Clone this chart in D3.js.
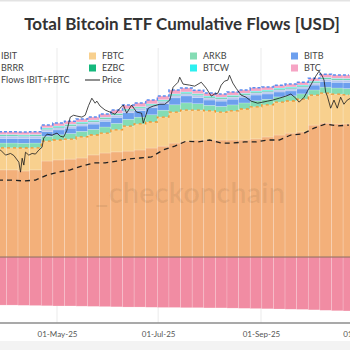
<!DOCTYPE html>
<html>
<head>
<meta charset="utf-8">
<script src="https://cdn.jsdelivr.net/npm/d3@7"></script>
<style>
  body { margin: 0; background: #fff; }
  svg { display: block; }
</style>
</head>
<body>
<div id="chart"></div>
<script>
// Weekly cumulative flows, $B (Fridays)
const weeks = ["2025-03-21","2025-03-28","2025-04-04","2025-04-11","2025-04-18","2025-04-25",
  "2025-05-02","2025-05-09","2025-05-16","2025-05-23","2025-05-30","2025-06-06","2025-06-13",
  "2025-06-20","2025-06-27","2025-07-04","2025-07-11","2025-07-18","2025-07-25","2025-08-01",
  "2025-08-08","2025-08-15","2025-08-22","2025-08-29","2025-09-05","2025-09-12","2025-09-19",
  "2025-09-26","2025-10-03","2025-10-10","2025-10-17","2025-10-24"];

const ibit = [40.2,40.2,40.2,39.7,40.2,44.3,44.8,45.2,45.7,47.1,48.0,48.5,48.9,49.4,50.3,51.2,
  52.6,53.5,54.0,54.0,54.0,54.0,54.0,54.5,55.4,56.3,57.2,57.7,60.9,61.8,61.4,61.4];
const fbtc = [10.2,10.2,10.2,10.6,10.2,9.2,9.2,9.2,9.7,9.2,9.2,10.2,11.5,12.0,12.0,13.4,
  14.3,14.3,13.8,13.4,12.9,13.4,14.3,14.8,14.8,15.2,14.8,15.2,13.8,13.8,13.8,13.4];
const arkb = [2.2,2.2,2.2,2.2,2.2,2.2,2.4,2.6,2.6,2.6,2.8,2.95,3.15,3.15,3.35,3.15,
  3.35,3.35,2.95,2.6,2.6,2.8,2.8,2.8,2.6,2.4,2.4,2.4,2.4,2.8,2.8,2.95];
const bitb = [2.1,2.1,2.1,2.1,2.1,2.1,2.25,2.45,2.45,2.45,2.65,2.8,3.0,3.0,3.2,3.0,
  3.2,3.2,2.8,2.45,2.45,2.65,2.65,2.65,2.45,2.25,2.25,2.25,2.25,2.65,2.65,2.8];
const hodl = [0.9,0.9,0.9,0.9,0.9,0.9,0.9,0.9,0.9,0.9,0.9,0.9,0.9,0.9,0.9,0.9,
  0.9,0.9,0.9,0.9,0.9,0.9,0.9,0.9,0.9,0.9,0.9,0.9,0.9,0.9,0.9,0.9];
const brrr = [0.25,0.25,0.25,0.25,0.25,0.25,0.25,0.25,0.25,0.25,0.25,0.25,0.25,0.25,0.25,0.25,
  0.25,0.25,0.25,0.25,0.25,0.25,0.25,0.25,0.25,0.25,0.25,0.25,0.25,0.25,0.25,0.25];
const ezbc = [0.4,0.4,0.4,0.4,0.4,0.4,0.4,0.4,0.4,0.4,0.4,0.4,0.4,0.4,0.4,0.4,
  0.4,0.4,0.4,0.4,0.4,0.4,0.4,0.4,0.4,0.4,0.4,0.4,0.4,0.4,0.4,0.4];
const btcw = [0.3,0.3,0.3,0.3,0.3,0.3,0.3,0.3,0.3,0.3,0.3,0.3,0.3,0.3,0.3,0.3,
  0.3,0.3,0.3,0.3,0.3,0.3,0.3,0.3,0.3,0.3,0.3,0.3,0.3,0.3,0.3,0.3];
const btc = [1.25,1.25,1.25,1.25,1.25,1.25,1.3,1.4,1.4,1.4,1.5,1.6,1.7,1.7,1.8,1.7,
  1.8,1.8,1.6,1.4,1.4,1.5,1.5,1.5,1.4,1.3,1.3,1.3,1.3,1.5,1.5,1.6];
const gbtc = [-22.1,-22.2,-22.2,-22.3,-22.4,-22.5,-22.6,-22.6,-22.7,-22.8,-22.9,-23.0,-23.1,-23.1,
  -23.2,-23.3,-23.3,-23.4,-23.4,-23.5,-23.5,-23.6,-23.7,-23.8,-23.9,-24.0,-24.1,-24.2,-24.4,-24.6,-24.8,-24.9];
const flowsIbitFbtc = [35.5,35.5,35.5,35.1,35.5,37.8,39.2,40.2,42.0,43.4,43.4,44.3,45.2,45.7,46.2,49.4,
  51.2,53.5,53.1,54.0,52.6,52.6,53.1,53.1,54.0,54.0,56.3,56.8,59.5,61.4,60.5,60.9];

// BTC price, $k
const priceDates = ["2025-03-25","2025-03-28","2025-03-31","2025-04-03","2025-04-05","2025-04-08","2025-04-09",
  "2025-04-10","2025-04-11","2025-04-12","2025-04-14","2025-04-16","2025-04-18","2025-04-20","2025-04-22",
  "2025-04-23","2025-04-25","2025-04-28","2025-05-01","2025-05-03","2025-05-05","2025-05-07","2025-05-09",
  "2025-05-11","2025-05-13","2025-05-16","2025-05-18","2025-05-20","2025-05-22","2025-05-24","2025-05-25",
  "2025-05-27","2025-05-30","2025-06-02","2025-06-05","2025-06-08","2025-06-10","2025-06-12","2025-06-15",
  "2025-06-18","2025-06-21","2025-06-22","2025-06-25","2025-06-28","2025-07-02","2025-07-05","2025-07-08",
  "2025-07-10","2025-07-13","2025-07-14","2025-07-16","2025-07-20","2025-07-23","2025-07-27","2025-07-30",
  "2025-08-02","2025-08-04","2025-08-06","2025-08-08","2025-08-10","2025-08-12","2025-08-13","2025-08-15",
  "2025-08-17","2025-08-20","2025-08-23","2025-08-26","2025-08-30","2025-09-02","2025-09-05","2025-09-08",
  "2025-09-12","2025-09-16","2025-09-19","2025-09-22","2025-09-24","2025-09-27","2025-09-29","2025-10-02",
  "2025-10-04","2025-10-06","2025-10-08","2025-10-09","2025-10-10","2025-10-11","2025-10-13","2025-10-15",
  "2025-10-17","2025-10-19","2025-10-21","2025-10-23","2025-10-25"];
const priceValues = [86.0,86.6,84.2,85.0,84.0,80.8,76.0,82.7,79.4,85.6,84.2,85.0,84.7,86.6,88.0,
  92.4,94.3,93.8,94.8,93.3,92.9,96.2,102.5,103.4,103.0,102.5,103.4,108.0,111.6,109.2,110.2,
  107.8,105.9,104.9,103.9,106.8,108.3,104.4,108.3,104.9,104.4,99.6,106.8,107.8,108.7,108.7,110.7,
  116.9,119.3,121.7,118.4,117.9,117.4,119.3,116.4,112.6,113.6,114.0,117.9,119.8,120.3,122.7,118.9,
  116.4,113.1,112.1,110.2,109.2,109.7,110.2,110.7,111.6,112.6,113.6,111.6,109.7,112.1,115.0,119.3,
  122.2,124.6,122.2,120.3,114.5,112.6,106.8,110.7,106.8,112.1,108.7,110.7,111.6];

const tickDates = ["2025-05-01","2025-07-01","2025-09-01","2025-11-01"];

const colors = {
  IBIT: "#f3b07a", FBTC: "#f8d08e", ARKB: "#84dcb4", BITB: "#6c9fee", HODL: "#b7c6ee",
  BRRR: "#8fb0e6", EZBC: "#14b87c", BTCW: "#2cf0f0", BTC: "#f6a4c4", GBTC: "#f18ca3"
};
const keys = ["IBIT","FBTC","ARKB","BITB","HODL","BRRR","EZBC","BTCW","BTC","GBTC"];
const seriesVals = {IBIT: ibit, FBTC: fbtc, ARKB: arkb, BITB: bitb, HODL: hodl, BRRR: brrr,
  EZBC: ezbc, BTCW: btcw, BTC: btc, GBTC: gbtc};

const parse = d3.timeParse("%Y-%m-%d");
const table = weeks.map((w, i) => {
  const row = {date: parse(w)};
  keys.forEach(k => row[k] = seriesVals[k][i]);
  row.flows = flowsIbitFbtc[i];
  return row;
});
const prices = priceDates.map((d, i) => ({date: parse(d), price: priceValues[i]}));

const W = 350, H = 350;
const svg = d3.select("#chart").append("svg")
  .attr("width", W).attr("height", H);

svg.append("rect").attr("width", W).attr("height", H).attr("fill", "#fff");
svg.append("rect").attr("width", W).attr("height", 1.5).attr("fill", "#e3e3e3");
svg.append("rect").attr("y", 341).attr("width", W).attr("height", 9).attr("fill", "#f3f3f3");

// scales (plot extends past the window on both sides)
const x = d3.scaleTime()
  .domain([parse("2025-05-01"), parse("2025-09-01")])
  .range([57, 261]);
const y = d3.scaleLinear().domain([-30, 90]).range([322, 62]);
const yPrice = d3.scaleLinear().domain([0, 130]).range([330, 60]);

// vertical grid
svg.append("g").selectAll("line")
  .data(tickDates.map(parse))
  .join("line")
  .attr("x1", d => x(d)).attr("x2", d => x(d))
  .attr("y1", 48).attr("y2", 323)
  .attr("stroke", "#ebebeb").attr("stroke-width", 1);

const stack = d3.stack().keys(keys).offset(d3.stackOffsetDiverging);
const layers = stack(table);

const step = x(parse("2025-05-08")) - x(parse("2025-05-01"));

svg.append("g").selectAll("g")
  .data(layers)
  .join("g")
  .attr("fill", d => colors[d.key])
  .selectAll("rect")
  .data(d => d)
  .join("rect")
  .attr("x", d => x(d.data.date) - step / 2)
  .attr("width", step)
  .attr("y", d => y(Math.max(d[0], d[1])))
  .attr("height", d => Math.abs(y(d[0]) - y(d[1])))
  .attr("stroke", "#fff").attr("stroke-opacity", 0.3).attr("stroke-width", 0.6);

// zero line
svg.append("line")
  .attr("x1", 0).attr("x2", W)
  .attr("y1", y(0)).attr("y2", y(0))
  .attr("stroke", "#8a6250").attr("stroke-width", 1);

// dashed outlines on FBTC top and total top
const fbtcTop = layers.find(l => l.key === "FBTC");
const totalTop = layers.find(l => l.key === "BTC");
const stepLine = d3.line().curve(d3.curveStep)
  .x(d => x(d.data.date)).y(d => y(d[1]));

svg.append("path").datum(fbtcTop)
  .attr("d", stepLine).attr("fill", "none")
  .attr("stroke", "#f0952e").attr("stroke-width", 1.3)
  .attr("stroke-dasharray", "3,3");
svg.append("path").datum(totalTop)
  .attr("d", stepLine).attr("fill", "none")
  .attr("stroke", "#5a8ef0").attr("stroke-width", 1.5)
  .attr("stroke-dasharray", "3,2");

// Flows IBIT+FBTC
svg.append("path").datum(table)
  .attr("d", d3.line().x(d => x(d.date)).y(d => y(d.flows)))
  .attr("fill", "none").attr("stroke", "#222")
  .attr("stroke-width", 1.3).attr("stroke-dasharray", "5,4");

// Price
svg.append("path").datum(prices)
  .attr("d", d3.line().x(d => x(d.date)).y(d => yPrice(d.price)))
  .attr("fill", "none").attr("stroke", "#1a1a1a").attr("stroke-width", 0.8);

// watermark
svg.append("text")
  .attr("x", 190).attr("y", 203)
  .attr("text-anchor", "middle")
  .attr("font-family", "Lato, 'Open Sans', sans-serif")
  .attr("font-weight", 700).attr("font-size", 29)
  .attr("fill", "#000").attr("fill-opacity", 0.06)
  .text("_checkonchain");

// x axis
svg.append("line")
  .attr("x1", 0).attr("x2", W).attr("y1", 323).attr("y2", 323)
  .attr("stroke", "#8c8c8c").attr("stroke-width", 1.5);

const xAxis = svg.append("g")
  .attr("transform", "translate(0,323)")
  .call(d3.axisBottom(x)
    .tickValues(tickDates.map(parse))
    .tickFormat(d3.timeFormat("%d-%b-%y"))
    .tickSize(0).tickPadding(8));
xAxis.select(".domain").remove();
xAxis.selectAll("text")
  .attr("font-family", "Lato, 'Open Sans', sans-serif")
  .attr("font-size", 8).attr("fill", "#555");

// title
svg.append("text")
  .attr("x", 182).attr("y", 30)
  .attr("text-anchor", "middle")
  .attr("font-family", "Lato, 'Open Sans', sans-serif")
  .attr("font-weight", 700).attr("font-size", 17)
  .attr("fill", "#333")
  .text("Total Bitcoin ETF Cumulative Flows [USD]");

// legend (first column's markers fall off the left edge, as in the source)
const legendItems = [
  {name: "IBIT", col: 0, row: 0, type: "box"},
  {name: "FBTC", col: 1, row: 0, type: "box"},
  {name: "ARKB", col: 2, row: 0, type: "box"},
  {name: "BITB", col: 3, row: 0, type: "box"},
  {name: "BRRR", col: 0, row: 1, type: "box"},
  {name: "EZBC", col: 1, row: 1, type: "box"},
  {name: "BTCW", col: 2, row: 1, type: "box"},
  {name: "BTC", col: 3, row: 1, type: "box"},
  {name: "Flows IBIT+FBTC", col: 0, row: 2, type: "dash"},
  {name: "Price", col: 1, row: 2, type: "line"}
];
const colX = c => 1 + c * 101;
const rowY = r => 56 + r * 12;

const lg = svg.append("g").selectAll("g")
  .data(legendItems)
  .join("g")
  .attr("transform", d => `translate(${colX(d.col)},${rowY(d.row)})`);

lg.filter(d => d.type === "box").append("rect")
  .attr("x", -13).attr("y", -3.5).attr("width", 7).attr("height", 7)
  .attr("fill", d => colors[d.name]);
lg.filter(d => d.type !== "box").append("line")
  .attr("x1", -17).attr("x2", -2).attr("y1", 0).attr("y2", 0)
  .attr("stroke", "#222").attr("stroke-width", 1)
  .attr("stroke-dasharray", d => d.type === "dash" ? "4,3" : null);
lg.append("text")
  .attr("x", 0).attr("y", 0).attr("dy", "0.35em")
  .attr("font-family", "Lato, 'Open Sans', sans-serif")
  .attr("font-size", 9).attr("fill", "#444")
  .text(d => d.name);
</script>
</body>
</html>
